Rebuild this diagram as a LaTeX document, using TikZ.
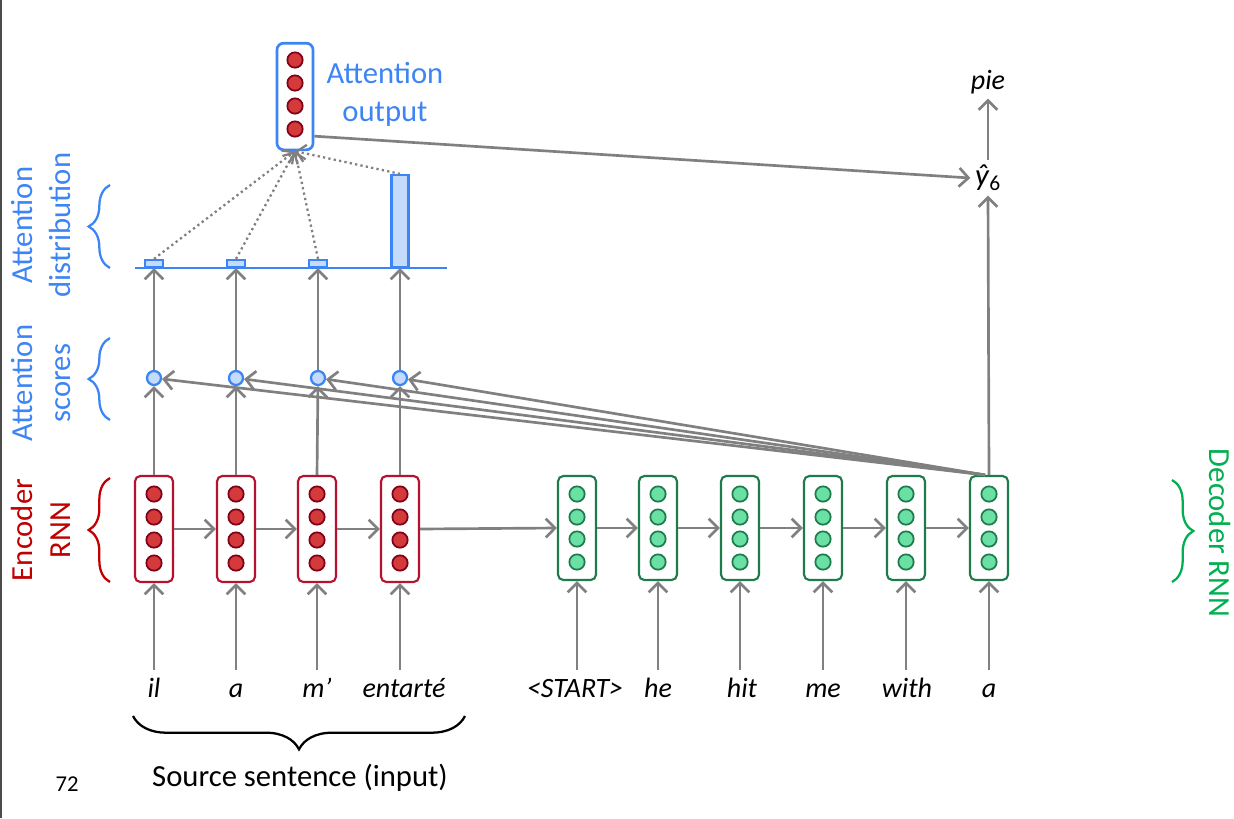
\documentclass[tikz,border=0pt]{standalone}
\usepackage{fontspec}
\setmainfont{Carlito}
\usetikzlibrary{arrows.meta,decorations.pathreplacing,calc}
\definecolor{attblue}{HTML}{3D85F5}
\definecolor{attfill}{HTML}{C5DBFB}
\definecolor{encborder}{HTML}{B4122E}
\definecolor{encfill}{HTML}{D43A3A}
\definecolor{encdark}{HTML}{7F0018}
\definecolor{enctext}{HTML}{C00000}
\definecolor{decborder}{HTML}{1E7B4B}
\definecolor{decfill}{HTML}{6BE0A4}
\definecolor{dectext}{HTML}{00B050}
\definecolor{arrgray}{HTML}{808080}
\newcommand\bigfont{\fontsize{23}{28.5}\selectfont}
\newcommand\wordfont{\fontsize{21}{25}\selectfont\itshape}
\begin{document}
\begin{tikzpicture}[x=0.75pt,y=-0.75pt,
  arr/.style={draw=arrgray, line width=2pt, -{Straight Barb[length=7pt,width=14pt]}},
  dotarr/.style={draw=arrgray, line width=1.7pt, dash pattern=on 1.7pt off 2.4pt, -{Straight Barb[length=6.5pt,width=13pt]}},
  encbox/.style={rectangle, rounded corners=4pt, draw=encborder, line width=1.6pt, fill=white, minimum width=28.5pt, minimum height=79.5pt, inner sep=0pt},
  decbox/.style={rectangle, rounded corners=4pt, draw=decborder, line width=1.6pt, fill=white, minimum width=28.5pt, minimum height=78pt, inner sep=0pt},
  attbox/.style={rectangle, rounded corners=5pt, draw=attblue, line width=2pt, fill=white, minimum width=27pt, minimum height=80pt, inner sep=0pt},
  encdot/.style={circle, draw=encdark, fill=encfill, line width=1.3pt, minimum size=11.5pt, inner sep=0pt},
  decdot/.style={circle, draw=decborder, fill=decfill, line width=1.3pt, minimum size=11.5pt, inner sep=0pt},
  scoredot/.style={circle, draw=attblue, fill=attfill, line width=1.7pt, minimum size=10.5pt, inner sep=0pt},
  bar/.style={rectangle, draw=attblue, fill=attfill, line width=1.6pt, anchor=south, inner sep=0pt},
  word/.style={font=\wordfont, anchor=base, text height=15pt, text depth=4pt, inner xsep=0pt, inner ysep=5pt},
  lbrace/.style={decorate, decoration={brace, amplitude=16pt}, line width=1.7pt},
  sidelabel/.style={font=\bigfont, align=center}
]
\useasboundingbox (0,0) rectangle (1234,818);
\fill[white] (0,0) rectangle (1234,818);
\fill[black!70] (0,0) rectangle (2,818);

% encoder
\foreach \i/\x in {1/154,2/236,3/317,4/400}{
  \node[encbox] (e\i) at (\x,529) {};
  \foreach \j/\dy in {1/-35,2/-12,3/11,4/34}{
    \node[encdot] (e\i c\j) at (\x,529+\dy) {};
  }
}
% decoder
\foreach \i/\x in {1/577,2/658,3/740,4/823,5/906,6/989}{
  \node[decbox] (d\i) at (\x,528) {};
  \foreach \j/\dy in {1/-34,2/-11,3/11,4/34}{
    \node[decdot] (d\i c\j) at (\x,528+\dy) {};
  }
}
% words
\node[word] (w1) at (154,697) {il};
\node[word] (w2) at (236,697) {a};
\node[word] (w3) at (317,697) {m’};
\node[word] (w4) at (404,697) {entarté};
\node[word] (w5) at (575,697) {<START>};
\node[word] (w6) at (658,697) {he};
\node[word] (w7) at (742,697) {hit};
\node[word] (w8) at (823,697) {me};
\node[word] (w9) at (907,697) {with};
\node[word] (w10) at (989,697) {a};

\foreach \i/\x in {1/154,2/236,3/317,4/400}{ \draw[arr] (w\i.north -| e\i) -- (e\i.south); }
\foreach \i [evaluate=\i as \k using int(\i+4)] in {1,...,6}{ \draw[arr] (w\k.north -| d\i) -- (d\i.south); }

% recurrence
\draw[arr] (e1.east) -- (e2.west);
\draw[arr] (e2.east) -- (e3.west);
\draw[arr] (e3.east) -- (e4.west);
\draw[arr] (e4.east) -- (d1.west);
\draw[arr] (d1.east) -- (d2.west);
\draw[arr] (d2.east) -- (d3.west);
\draw[arr] (d3.east) -- (d4.west);
\draw[arr] (d4.east) -- (d5.west);
\draw[arr] (d5.east) -- (d6.west);

% scores
\foreach \i/\x in {1/154,2/236,3/318,4/400}{
  \node[scoredot] (s\i) at (\x,378) {};
}
% distribution
\coordinate (axL) at (135,268);
\coordinate (axR) at (447,268);
\node[bar, minimum width=13.5pt, minimum height=5.25pt] (b1) at (154,268) {};
\node[bar, minimum width=13.5pt, minimum height=5.25pt] (b2) at (236,268) {};
\node[bar, minimum width=13.5pt, minimum height=5.25pt] (b3) at (318,268) {};
\node[bar, minimum width=12.75pt, minimum height=69pt] (b4) at (400,268) {};
\draw[attblue, line width=1.7pt] (axL) -- (axR);

\foreach \i in {1,...,4}{
  \draw[arr] (e\i.north) -- (s\i);
  \draw[arr] (s\i) -- (b\i.south);
}
\foreach \i in {1,...,4}{ \draw[arr] ([xshift=-3pt]d6.north) -- (s\i); }

% attention output
\node[attbox] (att) at (295,96.5) {};
\foreach \j/\y in {1/60,2/83,3/106,4/129}{ \node[encdot] (a\j) at (295,\y) {}; }
\node[font=\bigfont, text=attblue, align=center] (attlbl) at (385,94) {Attention\\output};
\foreach \i in {1,...,4}{ \draw[dotarr] (b\i.north) -- (att.south); }

% output
\node[font=\fontsize{23}{27}\selectfont] (yhat) at (988,178) {\textit{ŷ}\textsubscript{6}};
\node[font=\wordfont] (pie) at (988,82) {pie};
\draw[arr] (d6.north) -- (yhat.south);
\draw[arr] (yhat.north) -- (pie.south);
\draw[arr] ($(att.south east)+(0,-15)$) -- (yhat.west);

% side labels
\node[sidelabel, text=attblue, rotate=90] (ldist) at (41,225) {Attention\\distribution};
\node[sidelabel, text=attblue, rotate=90] (lscore) at (41,383) {Attention\\scores};
\node[sidelabel, text=enctext, rotate=90] (lenc) at (41,530) {Encoder\\RNN};
\node[sidelabel, text=dectext, rotate=-90] (ldec) at (1220,533) {Decoder RNN};

\draw[lbrace, attblue] (110,268) -- (110,185);
\draw[lbrace, attblue] (110,420) -- (110,338);
\draw[lbrace, enctext] (110,582) -- (110,478);
\draw[lbrace, dectext] (1172,480) -- (1172,582);
\draw[decorate, decoration={brace, amplitude=25pt}, line width=1.7pt, black] (465,716) -- (133,716);

\node[font=\bigfont] (src) at (300,778) {Source sentence (input)};
\node[font=\fontsize{17}{20}\selectfont] (pg) at (67,784) {72};
\end{tikzpicture}
\end{document}
